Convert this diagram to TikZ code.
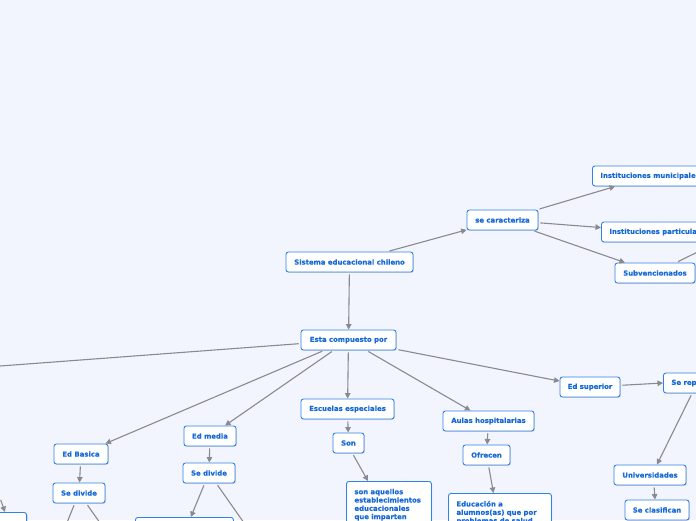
\documentclass[tikz,border=0pt]{standalone}
\usepackage{fontspec}
\newfontfamily\boxfont[BoldFeatures={FakeBold=0.4}]{DejaVu Sans}
\usetikzlibrary{arrows.meta,shadows}
\definecolor{bgc}{HTML}{F3F5FE}
\definecolor{boxblue}{HTML}{2F82E8}
\definecolor{txtblue}{HTML}{1769D8}
\definecolor{linegrey}{HTML}{8A8A8E}
\tikzset{
  box/.style={draw=boxblue, fill=white, rounded corners=2.5pt, line width=0.9pt,
    text=txtblue, font=\boxfont\bfseries\fontsize{6.9}{8.3}\selectfont,
    inner xsep=0pt, inner ysep=0pt, minimum height=20pt,
    drop shadow={shadow xshift=0.7pt, shadow yshift=-0.7pt, opacity=0.22, fill=black}},
  wbox/.style={box, inner xsep=8pt, anchor=west},
  tbox/.style={box, anchor=north west, align=left, inner xsep=8pt, inner ysep=7.5pt,
    minimum height=0pt, text depth=40pt},
  conn/.style={draw=linegrey, line width=1.1pt, shorten <=2pt},
  arr/.style={conn, -{Triangle[length=5.5pt,width=5.5pt]}}
}
\begin{document}
\begin{tikzpicture}[x=1pt,y=-1pt]
\path[use as bounding box] (0,0) rectangle (696,520);
\clip (0,0) rectangle (696,520);
\fill[bgc] (0,0) rectangle (696,520);

% nodes
\node[box, minimum width=127pt] (sis) at (349.5,262) {Sistema educacional chileno};
\node[box, minimum width=71pt] (car) at (502.5,220) {se caracteriza};
\node[wbox] (mun) at (592,176) {Instituciones municipales};
\node[wbox] (par) at (601,232) {Instituciones particulares};
\node[box, minimum width=80pt] (sub) at (655,273) {Subvencionados};
\node[box, minimum width=95pt] (esta) at (348.5,340) {Esta compuesto por};
\node[box, minimum width=54pt] (basica) at (81,454) {Ed Basica};
\node[box, minimum width=52pt] (sdA) at (79,493) {Se divide};
\node[box, minimum width=52pt] (media) at (210,436) {Ed media};
\node[box, minimum width=52pt] (sdB) at (209,473) {Se divide};
\node[box, minimum width=93pt] (esc) at (347.5,409) {Escuelas especiales};
\node[box, minimum width=31pt] (son) at (348.5,443) {Son};
\node[tbox, text width=69pt] (aquellos) at (346,481) {son aquellos\\establecimientos\\educacionales\\que imparten};
\node[box, minimum width=91pt] (aulas) at (488.5,421) {Aulas hospitalarias};
\node[box, minimum width=47pt] (ofrecen) at (486.5,455) {Ofrecen};
\node[tbox, text width=87pt] (educ) at (448,493) {Educación a\\alumnos(as) que por\\problemas de salud};
\node[box, minimum width=60pt] (sup) at (590,387) {Ed superior};
\node[wbox] (rep) at (663,383) {Se representa};
\node[box, minimum width=72pt] (uni) at (650,475) {Universidades};
\node[box, minimum width=64pt] (clas) at (657,510) {Se clasifican};
\node[box, anchor=north east, minimum width=50pt, minimum height=30pt] (bl) at (27,512) {};
\node[box, anchor=north west, minimum width=98pt, minimum height=30pt] (sdBc) at (135,517) {};

% off-picture ends
\coordinate (offL) at (-40,369);
\coordinate (offR) at (730,236);
\coordinate (offBL) at (0,498);
\coordinate (offA1) at (64,530);
\coordinate (offA2) at (105,530);
\coordinate (offB2) at (249,530);

% connectors
\draw[arr] (sis) -- (car);
\draw[arr] (car) -- (mun);
\draw[arr] (car) -- (par);
\draw[arr] (car) -- (sub);
\draw[conn] (sub) -- (offR);
\draw[arr] (sis) -- (esta);
\draw[conn] (esta) -- (offL);
\draw[arr] (esta) -- (basica);
\draw[arr] (esta) -- (media);
\draw[arr] (esta) -- (esc);
\draw[arr] (esta) -- (aulas);
\draw[arr] (esta) -- (sup);
\draw[arr] (basica) -- (sdA);
\draw[conn] (sdA) -- (offA1);
\draw[conn] (sdA) -- (offA2);
\draw[arr] (offBL) -- ([xshift=-22pt]bl.north east);
\draw[arr] (media) -- (sdB);
\draw[arr] (sdB) -- (sdBc);
\draw[conn] (sdB) -- (offB2);
\draw[arr] (esc) -- (son);
\draw[arr] ([xshift=4pt]son.south) -- ([xshift=-21pt]aquellos.north);
\draw[arr] (aulas) -- (ofrecen);
\draw[arr] ([xshift=2pt]ofrecen.south) -- ([xshift=-6.5pt]educ.north);
\draw[arr] (sup) -- (rep.west);
\draw[arr] ([xshift=29pt]rep.south west) -- ([xshift=7pt]uni.north);
\draw[arr] ([xshift=4pt]uni.south) -- ([xshift=-2pt]clas.north);
\end{tikzpicture}
\end{document}
